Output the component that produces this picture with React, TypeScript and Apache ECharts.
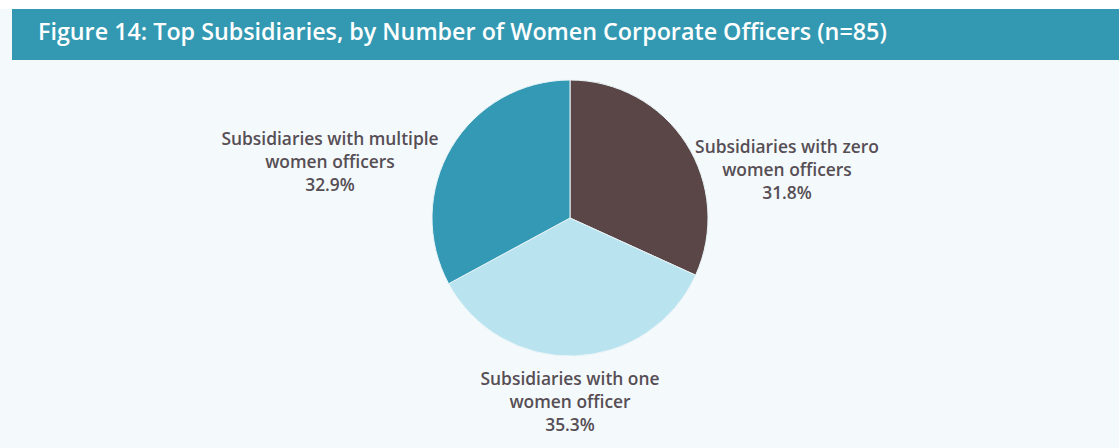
import React, { useEffect, useRef } from "react";
import * as echarts from "echarts";

const titleText = "Figure 14: Top Subsidiaries, by Number of Women Corporate Officers (n=85)";
const categories = [
  "Subsidiaries with zero\nwomen officers",
  "Subsidiaries with one\nwomen officer",
  "Subsidiaries with multiple\nwomen officers",
];
const values = [31.8, 35.3, 32.9];
const colors = ["#5a4646", "#b9e3ef", "#3399b4"];
const labelPositions = [
  [787, 134],
  [570, 366],
  [330, 126],
];

export default function App() {
  const ref = useRef<HTMLDivElement>(null);
  useEffect(() => {
    const chart = echarts.init(ref.current!, null, { renderer: "svg" });
    chart.setOption({
      animation: false,
      backgroundColor: "#f4fafc",
      graphic: [
        { type: "rect", shape: { x: 0, y: 0, width: 1119, height: 9 }, style: { fill: "#ffffff" } },
        { type: "rect", shape: { x: 12, y: 9, width: 1107, height: 51 }, style: { fill: "#3399b3" } },
      ],
      title: {
        text: titleText,
        left: 33,
        top: 14,
        textStyle: { color: "#ffffff", fontSize: 23.3, fontWeight: 600, fontFamily: "Open Sans" },
      },
      series: [
        {
          type: "pie",
          center: [570, 218],
          radius: 138,
          startAngle: 90,
          clockwise: true,
          data: categories.map((c, i) => ({ name: c, value: values[i], itemStyle: { color: colors[i] } })),
          itemStyle: { borderColor: "#e8f4f8", borderWidth: 1 },
          label: {
            show: true,
            position: "outside",
            formatter: (p: any) => `${p.name}\n${p.value.toFixed(1)}%`,
            color: "#574e55",
            fontSize: 17.4,
            fontWeight: 600,
            fontFamily: "Open Sans",
            lineHeight: 23,
            align: "center",
          },
          labelLine: { show: false },
          labelLayout: (params: any) => {
            const pos = labelPositions[params.dataIndex];
            return { x: pos[0], y: pos[1], align: "center", verticalAlign: "top" };
          },
        },
      ],
    });
    return () => chart.dispose();
  }, []);
  return <div ref={ref} style={{ position: "fixed", left: 0, top: 0, width: 1119, height: 448 }} />;
}
